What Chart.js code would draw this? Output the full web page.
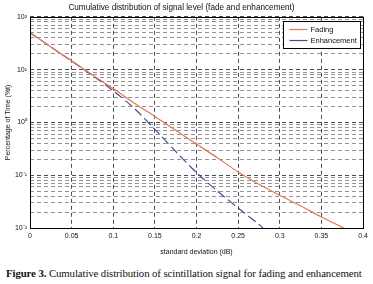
<!DOCTYPE html>
<html>
<head>
<meta charset="utf-8">
<script src="https://cdn.jsdelivr.net/npm/chart.js@4"></script>
<style>
  html,body{margin:0;padding:0;background:#fff;}
  #wrap{position:relative;width:373px;height:256px;}
  #cap{font-family:"Liberation Serif",serif;font-size:10.8px;color:#111;white-space:nowrap;padding-left:6px;margin-top:11px;letter-spacing:-0.1px;}
  #cap b{font-weight:bold;}
</style>
</head>
<body>
<div id="wrap"><canvas id="c" width="373" height="256"></canvas></div>
<div id="cap"><b>Figure 3.</b> Cumulative distribution of scintillation signal for fading and enhancement</div>
<script>
// values (percentage of time vs std deviation)
const xFading = [0,0.025,0.05,0.075,0.1,0.125,0.15,0.175,0.2,0.225,0.25,0.275,0.3,0.325,0.35,0.377];
const yFading = [50,26.9,14.8,7.94,4.37,2.34,1.29,0.708,0.389,0.214,0.115,0.0676,0.0417,0.0263,0.0162,0.01];
const xEnh = [0,0.025,0.05,0.075,0.1,0.125,0.15,0.175,0.2,0.225,0.25,0.275,0.28];
const yEnh = [50,26.9,14.5,7.76,3.98,1.86,0.741,0.282,0.112,0.0501,0.024,0.0117,0.01];
const xTicks = [0,0.05,0.1,0.15,0.2,0.25,0.3,0.35,0.4];
const decades = [0.01,0.1,1,10,100];
const decadeLabels = ['10⁻²','10⁻¹','10⁰','10¹','10²'];
const minorSteps = [1,2,3,4,5,6,7,8,9];

const yTickVals = [];
decades.slice(0,4).forEach(d => minorSteps.forEach(m => yTickVals.push(+(d*m).toPrecision(3))));
yTickVals.push(100);

const isDecade = v => decades.some(d => Math.abs(v/d-1) < 1e-6);

const boxPlugin = {
  id:'box',
  afterDraw(chart){
    const {ctx, chartArea:a} = chart;
    ctx.save();
    ctx.strokeStyle='#000'; ctx.lineWidth=1;
    ctx.strokeRect(Math.round(a.left)+0.5, Math.round(a.top)+0.5, Math.round(a.right-a.left), Math.round(a.bottom-a.top));
    // legend box, top right inside plot
    const bx = Math.round(a.right)-79.5, by = Math.round(a.top)+4.5, bw = 77, bh = 27;
    ctx.fillStyle='#fff'; ctx.fillRect(bx,by,bw,bh);
    ctx.strokeRect(bx,by,bw,bh);
    ctx.font='7.5px "Liberation Sans", Arial, sans-serif';
    ctx.textBaseline='middle';
    chart.data.datasets.forEach((ds,i)=>{
      const y = by + 8 + i*11;
      ctx.strokeStyle = ds.borderColor; ctx.lineWidth=1.2; ctx.setLineDash([]);
      ctx.beginPath(); ctx.moveTo(bx+6,y); ctx.lineTo(bx+24,y); ctx.stroke();
      ctx.fillStyle='#111'; ctx.fillText(ds.label, bx+27, y);
    });
    ctx.restore();
  }
};

new Chart(document.getElementById('c'), {
  type:'line',
  data:{
    datasets:[
      { label:'Fading', data:xFading.map((x,i)=>({x, y:yFading[i]})), borderColor:'#e07a52', borderWidth:1.2, pointRadius:0, fill:false, tension:0.3 },
      { label:'Enhancement', data:xEnh.map((x,i)=>({x, y:yEnh[i]})), borderColor:'#4a4a98', borderWidth:1.2, borderDash:[9,4], pointRadius:0, fill:false, tension:0.3 }
    ]
  },
  options:{
    responsive:false, animation:false, devicePixelRatio:1,
    layout:{ padding:{ left:0, right:10, top:0, bottom:0 } },
    plugins:{
      legend:{ display:false },
      tooltip:{ enabled:false },
      title:{ display:true, text:'Cumulative distribution of signal level (fade and enhancement)', color:'#111',
        font:{ family:'"Liberation Sans", Arial, sans-serif', size:8.2, weight:'normal' }, padding:{ top:3, bottom:4 } }
    },
    scales:{
      x:{
        type:'linear', min:0, max:0.4,
        afterBuildTicks: s => { s.ticks = xTicks.map(v=>({value:v})); },
        afterFit: s => { s.height = 28; },
        ticks:{ color:'#111', font:{ family:'"Liberation Sans", Arial, sans-serif', size:7 }, padding:4, maxRotation:0,
          callback: v => String(v) },
        grid:{ color:'#222', lineWidth:0.8, drawTicks:false },
        border:{ display:false, dash:[4,3] },
        title:{ display:true, text:'standard deviation (dB)', color:'#111', padding:{top:2,bottom:0},
          font:{ family:'"Liberation Sans", Arial, sans-serif', size:7 } }
      },
      y:{
        type:'logarithmic', min:0.01, max:100,
        afterBuildTicks: s => { s.ticks = yTickVals.map(v=>({value:v})); },
        afterFit: s => { s.width = 30; },
        ticks:{ color:'#111', font:{ family:'"Liberation Sans", Arial, sans-serif', size:7 }, padding:3, autoSkip:false,
          callback: v => { const k = decades.findIndex(d => Math.abs(v/d-1) < 1e-6); return k>=0 ? decadeLabels[k] : ''; } },
        grid:{ color: c => (c.tick && isDecade(c.tick.value)) ? '#222' : '#777', lineWidth:0.8, drawTicks:false },
        border:{ display:false, dash:[4,3] },
        title:{ display:true, text:'Percentage of Time (%t)', color:'#111', padding:{top:4,bottom:1},
          font:{ family:'"Liberation Sans", Arial, sans-serif', size:7 } }
      }
    }
  },
  plugins:[boxPlugin]
});
</script>
</body>
</html>
